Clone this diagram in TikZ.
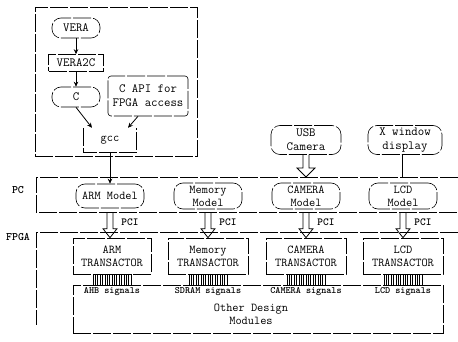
\documentclass[tikz,border=0pt]{standalone}
\usepackage{fontspec}
\usetikzlibrary{arrows.meta,positioning,calc}

% hollow block arrow: #1 start, #2 tip, #3 half width of the head
\newcommand{\hollowarrow}[3]{%
  \draw[conn] let \p1=(#1), \p2=(#2) in
    (\x1-3pt,\y1) -- (\x1-3pt,\y2+9pt) -- (\x1-#3,\y2+9pt) -- (\x1,\y2)
    -- (\x1+#3,\y2+9pt) -- (\x1+3pt,\y2+9pt) -- (\x1+3pt,\y1);}

\begin{document}
\begin{tikzpicture}[
    x=1pt, y=-1pt,
    >={Stealth[length=5pt,width=4.5pt]},
    every node/.style={font=\ttfamily\fontsize{12}{13}\selectfont, inner sep=1pt},
    brk/.style={line width=0.6pt, dash pattern=on 18pt off 2pt},
    conn/.style={line width=0.8pt},
    oval/.style={draw, brk, rounded corners=9pt, minimum width=48pt, minimum height=20pt, align=center},
    model/.style={oval, minimum width=68pt, minimum height=24pt},
    extern/.style={oval, minimum height=29pt, font=\ttfamily\fontsize{12.5}{14}\selectfont},
    trans/.style={draw, brk, minimum width=80pt, minimum height=36pt, align=center},
    sidelabel/.style={font=\ttfamily\bfseries\fontsize{11.4}{12}\selectfont},
    pcilabel/.style={font=\ttfamily\bfseries\fontsize{10.8}{12}\selectfont},
    siglabel/.style={font=\ttfamily\bfseries\fontsize{9.7}{11}\selectfont},
    sigbar/.style={line width=0.7pt},
]
\useasboundingbox (0,0) rectangle (458,342);

% ============ COMPILE FLOW ============
\node[draw, brk, minimum width=162pt, minimum height=149pt] (flow) at (116,81.5) {};
\node[oval, font=\ttfamily\fontsize{12.5}{14}\selectfont] (vera) at (76,28) {VERA};
\node[draw, brk, minimum width=55pt, minimum height=17pt, font=\ttfamily\fontsize{12.5}{14}\selectfont] (vera2c) at (76,63) {VERA2C};
\node[oval, font=\ttfamily\fontsize{12.5}{14}\selectfont] (csrc) at (76,97) {C};
\node[draw, brk, rounded corners=3pt, minimum width=80pt, minimum height=40pt, align=center,
      font=\ttfamily\fontsize{12.5}{14}\selectfont] (capi) at (148,96) {C API for\\FPGA access};
\node[minimum width=53pt, minimum height=24pt] (gcc) at (110,140) {gcc};
\draw[brk] (gcc.north west) |- (gcc.south east) -- (gcc.north east);

\draw[conn,->] (vera) -- (vera2c);
\draw[conn,->] (vera2c) -- (csrc);
\draw[conn,->] (csrc.south) -- ([xshift=-18pt]gcc.north);
\draw[conn,->] ([xshift=-10pt]capi.south) -- ([xshift=18pt]gcc.north);

% ============ PC ============
\coordinate (pcne) at (458,177);
\coordinate (pcnw) at (36,177);
\coordinate (pcsw) at (36,212);
\coordinate (pcse) at (458,212);
\draw[brk] (pcne) -- (pcnw) -- (pcsw) -- (pcse);
\node[sidelabel] (pclabel) at (18,190) {PC};

\node[model] (armm) at (110,196) {ARM Model};
\node[model, minimum height=26pt] (memm) at (208,196) {Memory\\Model};
\node[model, minimum height=26pt] (camm) at (306,196) {CAMERA\\Model};
\node[model, minimum height=26pt] (lcdm) at (403,196) {LCD\\Model};

\draw[conn,->] (gcc.south) -- (gcc.south |- armm.north);

% ============ EXTERNAL DEVICES ============
\node[extern, minimum width=70pt] (usbcam) at (306,140) {USB\\Camera};
\node[extern, minimum width=74pt] (xwin) at (405,140) {X window\\display};

\hollowarrow{usbcam.south}{usbcam.south |- pcnw}{9pt}
\draw[conn, double, double distance=5pt] (xwin.south) -- (xwin.south |- pcnw);

% ============ FPGA ============
\draw[brk] (458,232) -- (36,232) -- (36,325);
\node[sidelabel] (fpgalabel) at (18,237) {FPGA};

\node[trans, minimum width=78pt] (armt) at (112,256) {ARM\\TRANSACTOR};
\node[trans] (memt) at (208,256) {Memory\\TRANSACTOR};
\node[trans] (camt) at (306,256) {CAMERA\\TRANSACTOR};
\node[trans] (lcdt) at (403,256) {LCD\\TRANSACTOR};

% PCI links
\foreach \m/\t in {armm/armt, memm/memt, camm/camt, lcdm/lcdt} {
  \hollowarrow{\m.south |- pcsw}{\m.south |- \t.north}{7pt}
  \node[pcilabel, xshift=20pt] (pci\m) at ($(\m.south |- pcsw)!0.4!(\m.south |- \t.north)$) {PCI};
}

% signal buses
\foreach \t in {armt, memt, camt, lcdt} {
  \draw[sigbar] ($(\t.south)+(-19,0)$) rectangle ($(\t.south)+(19,11)$);
  \foreach \i in {1,...,15}
    \draw[sigbar] ($(\t.south)+(-19+2.375*\i,0)$) -- ++(0,11);
}

% ============ OTHER DESIGN MODULES ============
\node[draw, brk, minimum width=370pt, minimum height=48pt] (odm) at (258,309) {};
\node[siglabel] (ahb) at (112,292) {AHB signals};
\node[siglabel] (sdram) at (208,292) {SDRAM signals};
\node[siglabel] (camsig) at (306,292) {CAMERA signals};
\node[siglabel] (lcdsig) at (403,292) {LCD signals};
\node[align=center] (odmlabel) at (251,314) {Other Design\\Modules};

\end{tikzpicture}
\end{document}
